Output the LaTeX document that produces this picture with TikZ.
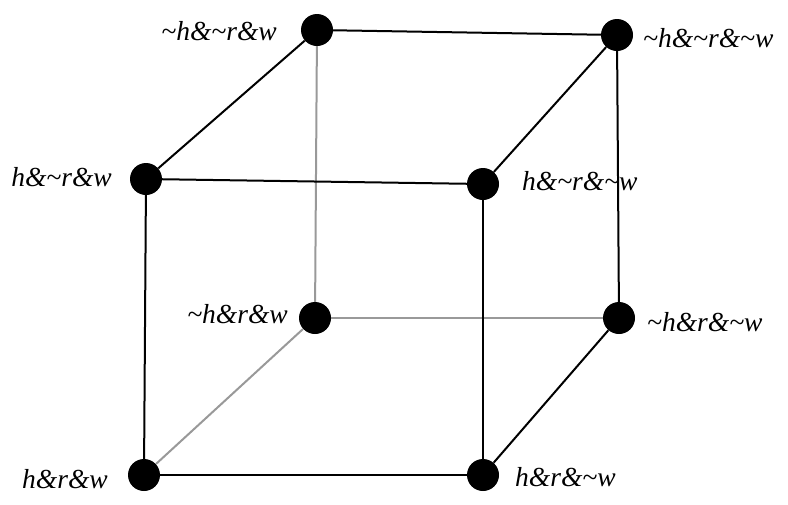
\documentclass[tikz,border=0pt]{standalone}
\usepackage{fontspec}
\setmainfont{Liberation Serif}
\begin{document}
\begin{tikzpicture}[x=1pt,y=-1pt,
  vert/.style={circle,fill=black,inner sep=0pt,minimum size=32pt},
  lbl/.style={font=\fontsize{27.5}{30}\selectfont\itshape,inner sep=0pt},
  edge/.style={line width=2pt,black},
  hidden/.style={line width=2pt,black!40}]
\useasboundingbox (0,0) rectangle (788,504);
\node[vert] (tlb) at (317,30) {};
\node[vert] (trb) at (617,35) {};
\node[vert] (tlf) at (146,179) {};
\node[vert] (trf) at (483,184) {};
\node[vert] (blb) at (315,318) {};
\node[vert] (brb) at (619,318) {};
\node[vert] (blf) at (144,475) {};
\node[vert] (brf) at (483,475) {};
\draw[hidden] (tlb) -- (blb);
\draw[hidden] (blb) -- (brb);
\draw[hidden] (blb) -- (blf);
\draw[edge] (tlb) -- (trb);
\draw[edge] (tlb) -- (tlf);
\draw[edge] (trb) -- (trf);
\draw[edge] (trb) -- (brb);
\draw[edge] (tlf) -- (trf);
\draw[edge] (tlf) -- (blf);
\draw[edge] (trf) -- (brf);
\draw[edge] (blf) -- (brf);
\draw[edge] (brb) -- (brf);
\node[lbl,anchor=east] (ltlb) at (277,31) {\textasciitilde h\&\textasciitilde r\&w};
\node[lbl,anchor=west] (ltrb) at (643,38) {\textasciitilde h\&\textasciitilde r\&\textasciitilde w};
\node[lbl,anchor=east] (ltlf) at (112,177) {h\&\textasciitilde r\&w};
\node[lbl,anchor=west] (ltrf) at (522,181) {h\&\textasciitilde r\&\textasciitilde w};
\node[lbl,anchor=east] (lblb) at (288,314) {\textasciitilde h\&r\&w};
\node[lbl,anchor=west] (lbrb) at (647,322) {\textasciitilde h\&r\&\textasciitilde w};
\node[lbl,anchor=east] (lblf) at (108,479) {h\&r\&w};
\node[lbl,anchor=west] (lbrf) at (515,477) {h\&r\&\textasciitilde w};
\end{tikzpicture}
\end{document}
